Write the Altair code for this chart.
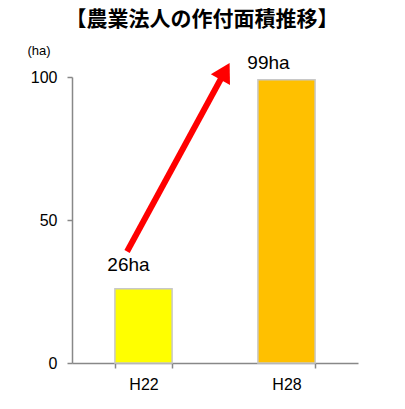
import altair as alt
import pandas as pd

categories = ["H22", "H28"]
values = [26, 99]
labels = ["26ha", "99ha"]
colors = ["#FFFF00", "#FFC000"]

# arrow annotation (index position on category axis, value on y axis)
arrow_x = [0.385, 1.07]
arrow_y = [39, 102]

df = pd.DataFrame({"cat": categories, "val": values, "label": labels, "color": colors})
arrow_df = pd.DataFrame({"x": [arrow_x[0]], "x2": [arrow_x[1]], "y": [arrow_y[0]], "y2": [arrow_y[1]]})
head_df = pd.DataFrame({"x": [arrow_x[1]], "y": [arrow_y[1]]})

xscale = alt.Scale(domain=categories, paddingInner=0.6, paddingOuter=0.3)
yscale = alt.Scale(domain=[0, 100], nice=False)

base = alt.Chart(df)

bars = base.mark_bar(stroke="#c8c8c8", strokeWidth=1.5).encode(
    x=alt.X("cat:N", scale=xscale, sort=categories, title=None,
            axis=alt.Axis(labelAngle=0, tickBand="extent", domainColor="#888888",
                          tickColor="#888888", tickSize=5, labelFontSize=16,
                          labelFont="Liberation Sans", labelColor="black",
                          labelPadding=8, domainWidth=1.5, tickWidth=1.5)),
    y=alt.Y("val:Q", scale=yscale,
            axis=alt.Axis(values=[0, 50, 100], grid=False, domainColor="#888888",
                          tickColor="#888888", tickSize=5, labelFontSize=16,
                          labelFont="Liberation Sans", labelColor="black",
                          labelPadding=10, domainWidth=1.5, tickWidth=1.5,
                          title="(ha)", titleAngle=0, titleX=-45, titleY=-27,
                          titleAlign="left", titleBaseline="middle",
                          titleFontSize=13, titleFontWeight="normal",
                          titleFont="Liberation Sans", titleColor="black")),
    color=alt.Color("color:N", scale=None),
)

text_lo = base.transform_filter(alt.datum.cat == "H22").mark_text(
    baseline="bottom", dy=-14, dx=-15, fontSize=19, font="Liberation Sans", color="black"
).encode(x=alt.X("cat:N", scale=xscale, sort=categories, axis=None),
         y=alt.Y("val:Q", scale=yscale), text="label:N")

text_hi = base.transform_filter(alt.datum.cat == "H28").mark_text(
    baseline="bottom", dy=-7, dx=-18, fontSize=19, font="Liberation Sans", color="black"
).encode(x=alt.X("cat:N", scale=xscale, sort=categories, axis=None),
         y=alt.Y("val:Q", scale=yscale), text="label:N")

xq = alt.Scale(domain=[0, 2], nice=False, zero=False)

shaft = alt.Chart(arrow_df).mark_rule(color="#FF0000", strokeWidth=6).encode(
    x=alt.X("x:Q", scale=xq, axis=None),
    x2="x2:Q",
    y=alt.Y("y:Q", scale=yscale),
    y2="y2:Q",
)

head = alt.Chart(head_df).mark_point(shape="triangle-up", filled=True, opacity=1,
                                     color="#FF0000", size=480, angle=29).encode(
    x=alt.X("x:Q", scale=xq, axis=None),
    y=alt.Y("y:Q", scale=yscale),
)

chart = alt.layer(bars, text_lo, text_hi, shaft, head).resolve_scale(x="independent").properties(
    width=286, height=286,
    padding={"left": 19, "top": 1, "right": 5, "bottom": 5},
    title=alt.TitleParams("【農業法人の作付面積推移】", font="Noto Sans CJK JP", fontSize=21,
                          fontWeight="bold", color="black", anchor="middle", offset=14, dx=-13),
).configure_view(stroke=None)

chart.save("out.html", embed_options={"renderer": "svg", "actions": False})
